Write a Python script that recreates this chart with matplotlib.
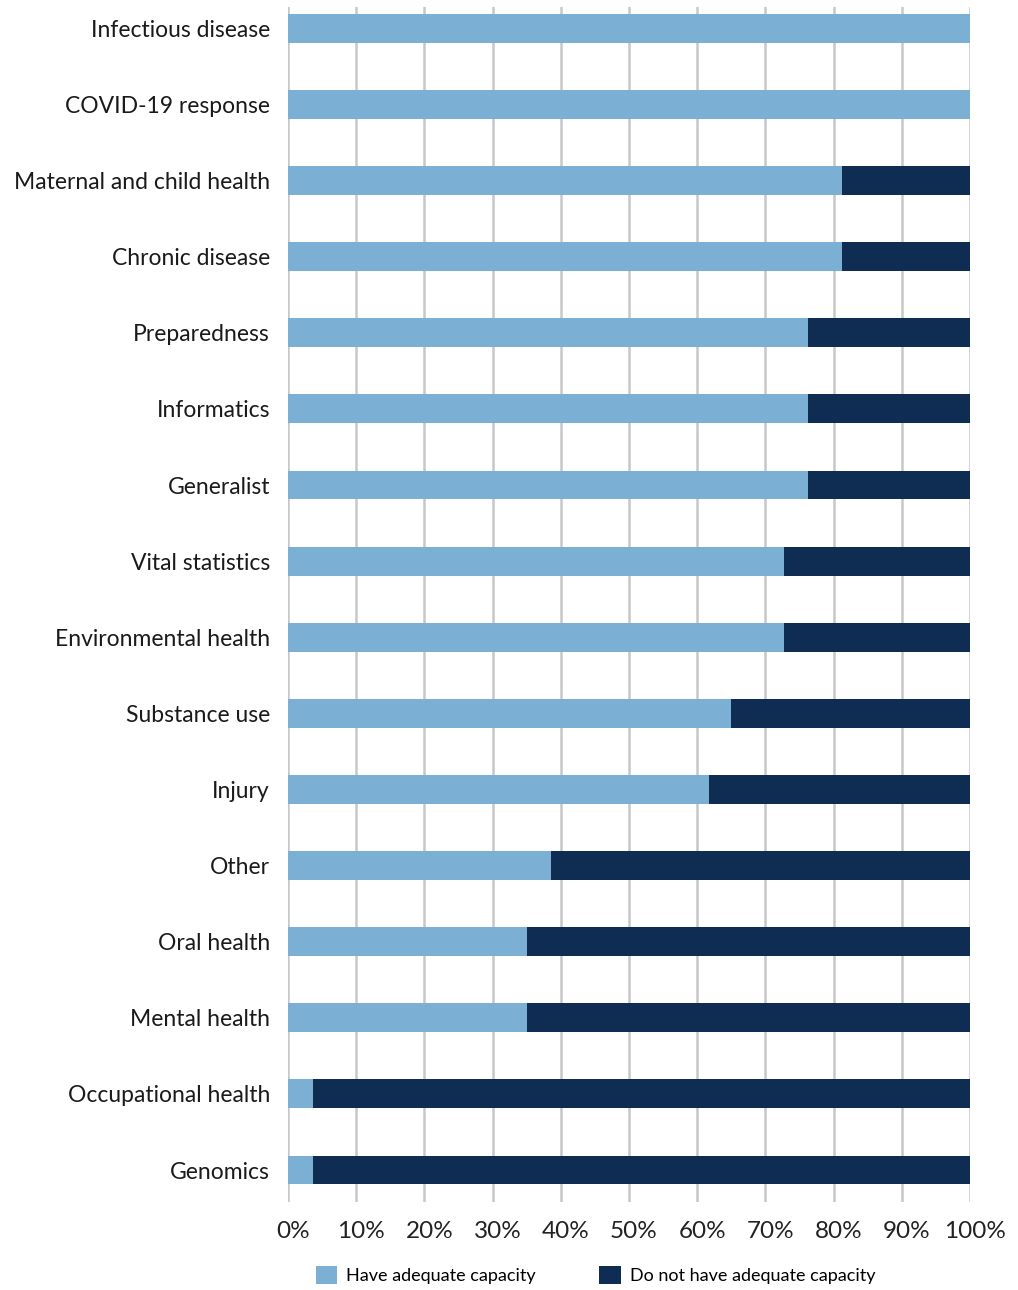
import matplotlib.pyplot as plt
import matplotlib.transforms as mtransforms
import numpy as np

categories = ["Infectious disease", "COVID-19 response", "Maternal and child health",
              "Chronic disease", "Preparedness", "Informatics", "Generalist",
              "Vital statistics", "Environmental health", "Substance use", "Injury",
              "Other", "Oral health", "Mental health", "Occupational health", "Genomics"]
have = [100, 100, 81.3, 81.3, 76.3, 76.3, 76.3, 72.8, 72.8, 64.9, 61.8,
        38.5, 35.0, 35.0, 3.7, 3.7]
have_not = [100 - v for v in have]

plt.rcParams['font.family'] = ['Lato', 'DejaVu Sans']

fig = plt.figure(figsize=(10.18, 12.90), dpi=100)
ax = fig.add_axes([288 / 1018, 1 - 1202 / 1290, 682 / 1018, 1195 / 1290])

y = np.arange(len(categories))
ax.barh(y, have, height=0.38, color="#7BAFD4", label="Have adequate capacity", zorder=3)
ax.barh(y, have_not, left=have, height=0.38, color="#0F2C52",
        label="Do not have adequate capacity", zorder=3)

ax.set_xlim(0, 100)
ax.set_ylim(15.42, -0.28)
ax.set_yticks(y)
ax.set_yticklabels(categories, fontsize=16.5, color="#1a1a1a")
ax.set_xticks(range(0, 101, 10))
ax.set_xticklabels([f"{v}%" for v in range(0, 101, 10)], fontsize=17.5, color="#222222")
ax.tick_params(axis="y", length=0, pad=13)
ax.tick_params(axis="x", length=0, pad=14)
shift = mtransforms.ScaledTranslation(5 / 100, 0, fig.dpi_scale_trans)
for lbl in ax.get_xticklabels():
    lbl.set_transform(lbl.get_transform() + shift)
ax.grid(axis="x", color="#c8c8c8", linewidth=1.8, zorder=0)
for s in ax.spines.values():
    s.set_visible(False)

fig.legend(loc="lower center", bbox_to_anchor=(0.585, -0.008), ncol=2, frameon=False,
           fontsize=13, handlelength=1.2, handleheight=1.2, columnspacing=3.5,
           handletextpad=0.5)

fig.savefig("out.png", dpi=100)
